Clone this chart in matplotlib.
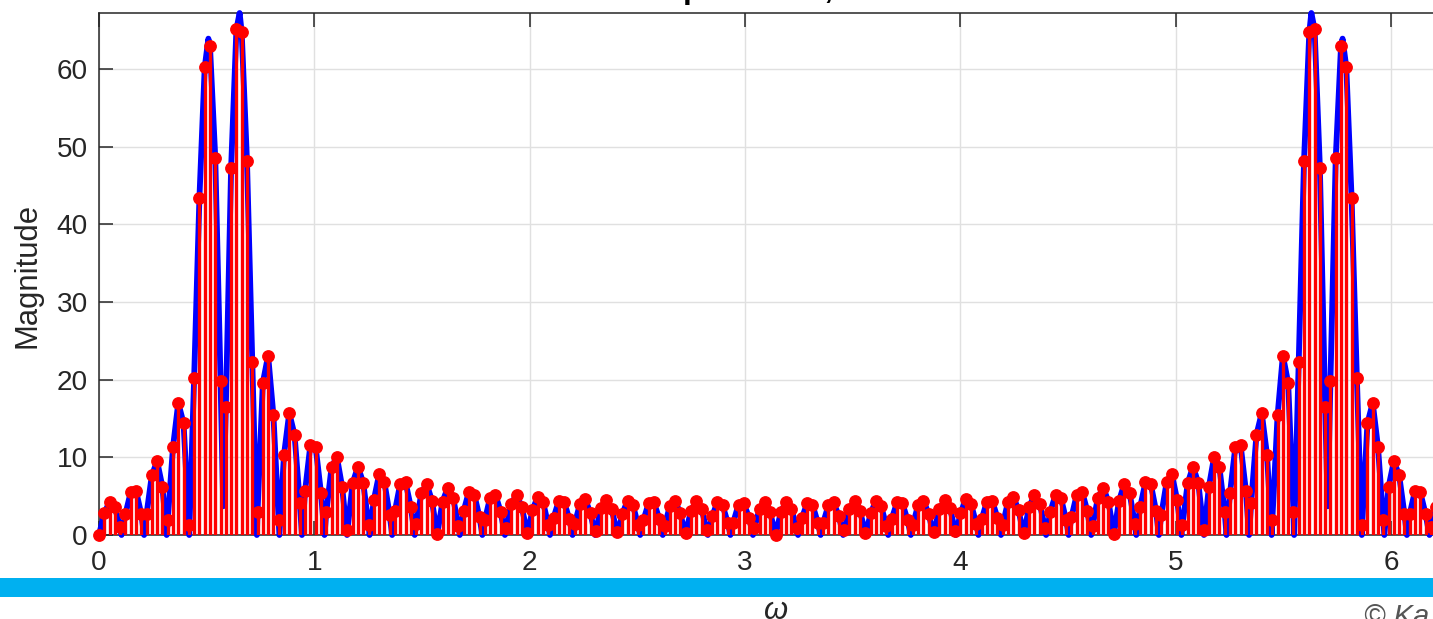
import numpy as np
import matplotlib
matplotlib.use("Agg")
import matplotlib.pyplot as plt
from matplotlib.patches import Rectangle

plt.rcParams['font.family'] = ['Liberation Sans', 'DejaVu Sans']

N = 256   # DFT length
L = 60    # DTFT nulls sit on multiples of 2*pi/L

# |X[k]| for k = 0..128
mag_left = [
    0.0, 2.8, 4.3, 3.6, 1.0, 2.7, 5.5, 5.7, 2.7, 2.7,
    7.7, 9.5, 6.2, 1.9, 11.3, 17.0, 14.4, 1.3, 20.2, 43.4,
    60.2, 62.9, 48.5, 19.8, 16.5, 47.3, 65.1, 64.7, 48.1, 22.3,
    3.0, 19.6, 23.1, 15.4, 1.9, 10.3, 15.7, 12.9, 4.1, 5.7,
    11.6, 11.3, 5.4, 2.9, 8.7, 10.1, 6.2, 0.6, 6.7, 8.8,
    6.7, 1.3, 4.5, 7.8, 6.8, 2.6, 3.1, 6.6, 6.8, 3.6,
    1.4, 5.4, 6.6, 4.4, 0.1, 4.3, 6.1, 4.8, 1.2, 3.1,
    5.6, 5.2, 2.3, 1.9, 4.8, 5.2, 3.0, 0.9, 4.0, 5.2,
    3.6, 0.3, 3.2, 4.9, 4.3, 1.3, 2.2, 4.4, 4.3, 2.0,
    1.4, 4.0, 4.6, 2.8, 0.5, 3.5, 4.5, 3.3, 0.4, 2.7,
    4.4, 3.9, 1.3, 1.9, 4.1, 4.2, 2.1, 1.1, 3.7, 4.4,
    2.8, 0.2, 3.1, 4.4, 3.4, 0.6, 2.4, 4.2, 3.8, 1.5,
    1.6, 3.9, 4.1, 2.2, 0.9, 3.4, 4.3, 2.9, 0.0,
]
# |X[k]| for k = 129..255
mag_right = [
    2.9, 4.3, 3.4, 0.9, 2.2, 4.1, 3.9, 1.6, 1.5, 3.8,
    4.2, 2.4, 0.6, 3.4, 4.4, 3.1, 0.2, 2.8, 4.4, 3.7,
    1.1, 2.1, 4.2, 4.1, 1.9, 1.3, 3.9, 4.4, 2.7, 0.4,
    3.3, 4.5, 3.5, 0.5, 2.8, 4.6, 4.0, 1.4, 2.0, 4.3,
    4.4, 2.2, 1.3, 4.3, 4.9, 3.2, 0.3, 3.6, 5.2, 4.0,
    0.9, 3.0, 5.2, 4.8, 1.9, 2.3, 5.2, 5.6, 3.1, 1.2,
    4.8, 6.1, 4.3, 0.1, 4.4, 6.6, 5.4, 1.4, 3.6, 6.8,
    6.6, 3.1, 2.6, 6.8, 7.8, 4.5, 1.3, 6.7, 8.8, 6.7,
    0.6, 6.2, 10.1, 8.7, 2.9, 5.4, 11.3, 11.6, 5.7, 4.1,
    12.9, 15.7, 10.3, 1.9, 15.4, 23.1, 19.6, 3.0, 22.3, 48.1,
    64.7, 65.1, 47.3, 16.5, 19.8, 48.5, 62.9, 60.2, 43.4, 20.2,
    1.3, 14.4, 17.0, 11.3, 1.9, 6.2, 9.5, 7.7, 2.7, 2.7,
    5.7, 5.5, 2.7, 1.0, 3.6, 4.3, 2.8,
]
mag_dft = mag_left + mag_right

# DTFT zeros, in units of 2*pi/L
null_bins = [0, 1, 2, 3, 4, 7, 8, 9, 10, 11, 12, 13, 14, 15, 16, 17, 18, 19,
             20, 21, 22, 23, 24, 25, 26, 27, 28, 29, 30, 31, 32, 33, 34, 35,
             36, 37, 38, 39, 40, 41, 42, 43, 44, 45, 46, 47, 48, 49, 50, 51,
             52, 53, 56, 57, 58, 59, 60]

# main-lobe tops and the dip between the two lobes
peak_w = [0.508, 0.577, 0.653, 5.630, 5.706, 5.775]
peak_mag = [63.9, 3.7, 67.2, 67.2, 3.7, 63.9]

xtick_vals = [0, 1, 2, 3, 4, 5, 6]
ytick_vals = [0, 10, 20, 30, 40, 50, 60]

w_dft = 2 * np.pi * np.arange(N) / N
w_null = 2 * np.pi * np.array(null_bins) / L

w_cont = np.concatenate([w_dft, w_null, peak_w])
m_cont = np.concatenate([mag_dft, np.zeros(len(null_bins)), peak_mag])
order = np.argsort(w_cont, kind="stable")
w_cont = w_cont[order]
m_cont = m_cont[order]

W, H = 1433, 619
fig = plt.figure(figsize=(W / 100, H / 100), dpi=100)
ax = fig.add_axes([99 / W, 1 - 535 / H, (1452 - 99) / W, 522 / H])

dark = '#262626'

ax.plot(w_cont, m_cont, color='blue', linewidth=4.2, zorder=3,
        clip_on=False, solid_joinstyle='round')
ax.vlines(w_dft, 0, mag_dft, colors='red', linewidth=2.4, zorder=4)
ax.plot(w_dft, mag_dft, 'o', color='red', markersize=8.2, zorder=5,
        clip_on=False)

ax.set_xlim(0, 2 * np.pi)
ax.set_ylim(0, 67.2)
ax.set_xticks(xtick_vals)
ax.set_yticks(ytick_vals)
ax.grid(True, color='#e0e0e0', linewidth=1.0)
ax.set_axisbelow(True)

ax.tick_params(direction='in', length=10, width=1.1, colors=dark,
               top=True, right=True, labelsize=20.2)
ax.tick_params(axis='x', pad=11)
ax.tick_params(axis='y', pad=8)
for s in ax.spines.values():
    s.set_color(dark)
    s.set_linewidth(1.1)

fig.text(28 / W, 1 - 275 / H, 'Magnitude', rotation=90, ha='center',
         va='center', fontsize=22.3, color=dark)
fig.text(775.5 / W, 1 + 1.5 / H, '256-point DFT, L = 60', ha='center',
         va='baseline', fontsize=22.3, fontweight='bold', color='black')

# banner strip across the lower edge
fig.add_artist(Rectangle((0, 1 - 597 / H), 1, 19 / H,
                         transform=fig.transFigure, facecolor='#00b0f0',
                         edgecolor='none', zorder=10))

fig.text(776 / W, 1 - 611 / H, 'ω', ha='center', va='center',
         fontsize=22.3, style='italic', color=dark)
fig.text(1364 / W, 1 - 617 / H, '© Ka', ha='left', va='center',
         fontsize=21, style='italic', color='#555555')

fig.savefig('out.png', dpi=100)
